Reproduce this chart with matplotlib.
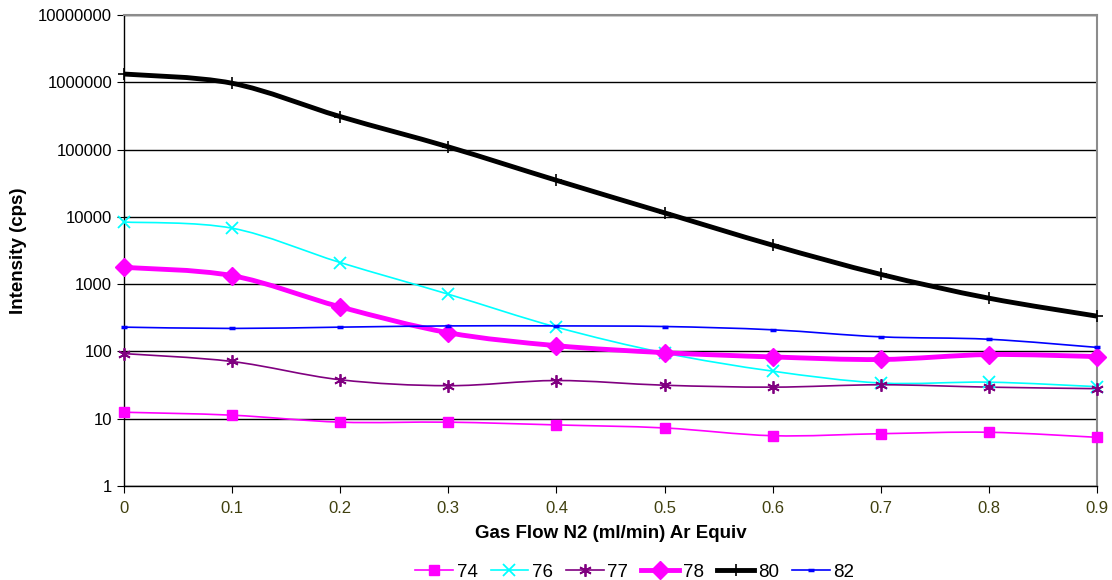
import numpy as np
import matplotlib.pyplot as plt
from matplotlib.path import Path
from matplotlib.patches import PathPatch

plt.rcParams["font.family"] = ["Liberation Sans", "DejaVu Sans"]

# gas flow (ml/min, Ar equivalent)
flow = [0.0, 0.1, 0.2, 0.3, 0.4, 0.5, 0.6, 0.7, 0.8, 0.9]

# intensity (cps) per mass
i74 = [12.5, 11.3, 8.9, 8.9, 8.1, 7.3, 5.6, 6.0, 6.3, 5.3]
i76 = [8400, 6800, 2100, 710, 230, 95, 51, 34, 35, 30]
i77 = [93, 71, 38, 31, 37, 31.5, 29.5, 32, 29.5, 28]
i78 = [1780, 1340, 460, 190, 122, 96, 83, 76, 90, 84]
i80 = [1330000, 970000, 310000, 110000, 35000, 11500, 3800, 1400, 620, 335]
i82 = [230, 220, 230, 240, 240, 235, 210, 165, 152, 115]

labels = ["74", "76", "77", "78", "80", "82"]
styles = [
    dict(color="#ff00ff", lw=1.2, marker="s", ms=7),
    dict(color="#00ffff", lw=1.2, marker="x", ms=8, mew=1.3),
    dict(color="#800080", lw=1.2, marker=(6, 2, 0), ms=9, mew=1.3),
    dict(color="#ff00ff", lw=3.5, marker="D", ms=9),
    dict(color="#000000", lw=3.5, marker="+", ms=9, mew=1.2),
    dict(color="#0000ff", lw=1.2, marker="_", ms=5, mew=2.5),
]


def smooth_path(xs, ys):
    # Catmull-Rom style bezier through the points, built in log space
    lx = np.asarray(xs, float)
    ly = np.log10(np.asarray(ys, float))
    verts = [(lx[0], ly[0])]
    codes = [Path.MOVETO]
    n = len(lx)
    for k in range(n - 1):
        p0 = (lx[max(k - 1, 0)], ly[max(k - 1, 0)])
        p1 = (lx[k], ly[k])
        p2 = (lx[k + 1], ly[k + 1])
        p3 = (lx[min(k + 2, n - 1)], ly[min(k + 2, n - 1)])
        c1 = (p1[0] + (p2[0] - p0[0]) / 6, p1[1] + (p2[1] - p0[1]) / 6)
        c2 = (p2[0] - (p3[0] - p1[0]) / 6, p2[1] - (p3[1] - p1[1]) / 6)
        verts += [c1, c2, p2]
        codes += [Path.CURVE4] * 3
    verts = [(vx, 10 ** vy) for vx, vy in verts]
    return Path(verts, codes)


fig = plt.figure(figsize=(11.12, 5.8), dpi=100)
ax = fig.add_axes([0.1115, 0.162, 0.875, 0.812])

for ys, lab, st in zip([i74, i76, i77, i78, i80, i82], labels, styles):
    ax.add_patch(PathPatch(smooth_path(flow, ys), fill=False,
                           edgecolor=st["color"], lw=st["lw"], zorder=3))
    ax.plot(flow, ys, linestyle="none", marker=st["marker"], ms=st["ms"],
            mew=st.get("mew", 1), color=st["color"], zorder=4, clip_on=False)
    # legend proxy
    ax.plot([], [], color=st["color"], lw=st["lw"], marker=st["marker"],
            ms=st["ms"], mew=st.get("mew", 1), label=lab)

ax.set_yscale("log")
ax.set_ylim(1, 1e7)
ax.set_xlim(0, 0.9)
ax.set_xticks(flow)
ax.set_xticklabels(["0"] + [f"{v:.1f}" for v in flow[1:]])
ax.set_yticks([10 ** p for p in range(8)])
ax.set_yticklabels([str(10 ** p) for p in range(8)])
ax.minorticks_off()
ax.yaxis.grid(True, color="black", lw=1)
ax.set_axisbelow(True)

ax.tick_params(axis="y", labelsize=12, length=5, color="black")
ax.tick_params(axis="x", labelsize=12, length=5, colors="#40400f", pad=6)
ax.tick_params(axis="x", color="black")
for side in ["top", "right"]:
    ax.spines[side].set_color("#8c8c8c")
    ax.spines[side].set_linewidth(1.5)
for side in ["left", "bottom"]:
    ax.spines[side].set_color("black")
    ax.spines[side].set_linewidth(1)

ax.set_xlabel("Gas Flow N2 (ml/min) Ar Equiv", fontsize=13.5, fontweight="bold",
              labelpad=6)
ax.set_ylabel("Intensity (cps)", fontsize=13.5, fontweight="bold", labelpad=8)

fig.legend(loc="lower center", bbox_to_anchor=(0.571, -0.03), ncol=6, frameon=False,
           fontsize=13.5, handlelength=2.0, handletextpad=0.2, columnspacing=0.7)

fig.savefig("out.png", dpi=100)
